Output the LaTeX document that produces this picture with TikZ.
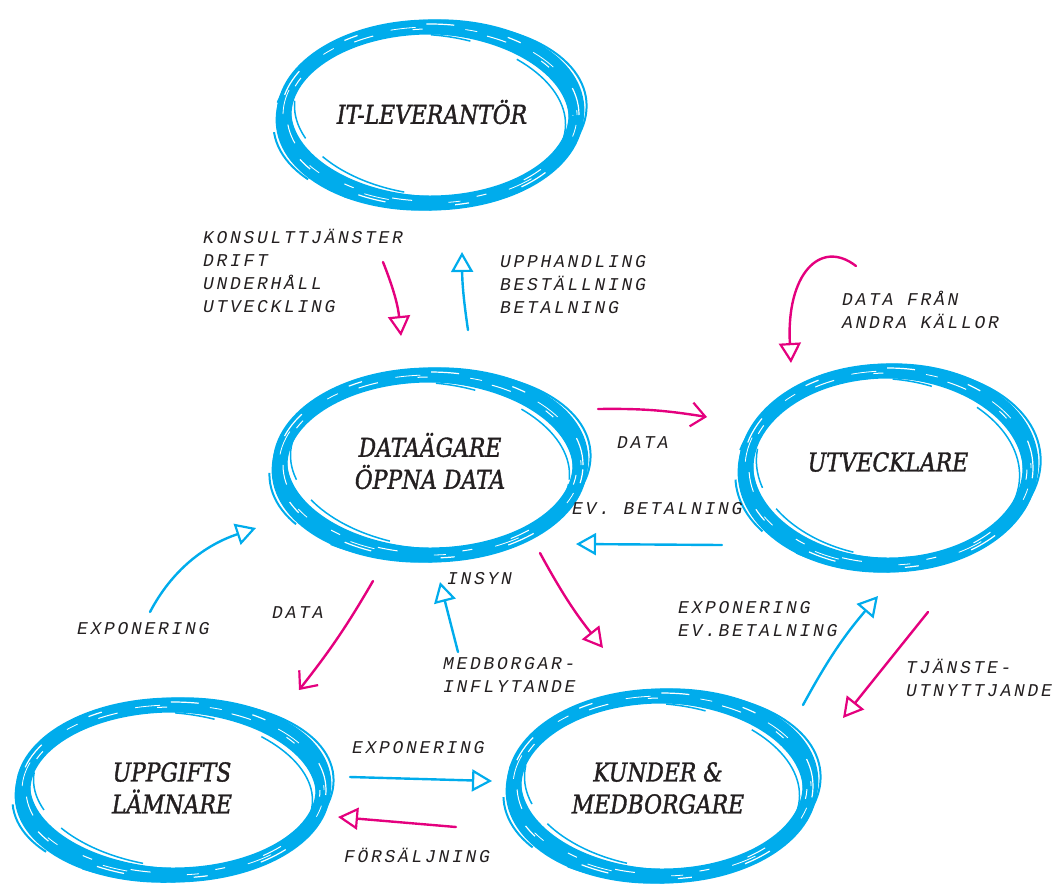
\documentclass[tikz,border=0pt]{standalone}
\usepackage{fontspec}
\setmainfont{DejaVu Serif}
\newfontfamily\labfont[FakeStretch=0.84, FakeBold=1.4]{DejaVu Serif}
\newfontfamily\handfont[LetterSpace=15]{Liberation Mono}
\usetikzlibrary{arrows.meta,shapes.geometric}
\definecolor{brushblue}{RGB}{0,172,236}
\definecolor{brushpink}{RGB}{228,0,126}
\definecolor{ink}{RGB}{35,31,32}

\tikzset{
  party/.style={ellipse, inner sep=0pt, align=center, text=ink,
    font=\labfont\itshape\fontsize{26}{32}\selectfont},
  hand/.style={inner sep=0pt, align=left, text=ink,
    font=\handfont\itshape\fontsize{18}{23}\selectfont},
  bluearrow/.style={draw=brushblue, line width=2.4pt, line cap=round,
    -{Triangle[open, length=20pt, width=22pt, line width=2.2pt]}},
  pinkarrow/.style={draw=brushpink, line width=2.4pt, line cap=round,
    -{Triangle[open, length=20pt, width=22pt, line width=2.2pt]}},
  pinkbarb/.style={draw=brushpink, line width=2.4pt, line cap=round,
    -{Straight Barb[length=14pt, width=24pt, line width=2.2pt]}},
}

% brush-stroke ring around a coordinate: #1 centre, #2 x radius, #3 y radius (pt)
\newcommand\brushring[3]{%
  \begin{scope}[shift={(#1)}]
    \draw[brushblue, line width=15pt] (0,0) ellipse [x radius=#2pt, y radius=#3pt];
    \draw[brushblue, line width=7pt, rotate=3] (0,0) ellipse [x radius=#2pt+5pt, y radius=#3pt+4pt];
    \draw[brushblue, line width=6pt, rotate=-3] (0,0) ellipse [x radius=#2pt-4pt, y radius=#3pt-4pt];
    \draw[brushblue, line width=2pt, rotate=5, dash pattern=on 120pt off 30pt on 60pt off 40pt]
      (0,0) ellipse [x radius=#2pt+11pt, y radius=#3pt+3pt];
    \draw[brushblue, line width=1.5pt, rotate=-6, dash pattern=on 90pt off 50pt on 40pt off 25pt]
      (0,0) ellipse [x radius=#2pt-10pt, y radius=#3pt-8pt];
    \draw[white, line width=1.2pt, dash pattern=on 28pt off 70pt on 14pt off 55pt]
      (0,0) ellipse [x radius=#2pt+3pt, y radius=#3pt+3pt];
    \draw[white, line width=1pt, dash pattern=on 20pt off 65pt on 10pt off 40pt, dash phase=30pt]
      (0,0) ellipse [x radius=#2pt-3pt, y radius=#3pt-2pt];
    \draw[white, line width=0.8pt, dash pattern=on 12pt off 50pt on 25pt off 60pt, dash phase=7pt]
      (0,0) ellipse [x radius=#2pt+1pt, y radius=#3pt];
  \end{scope}%
}

\begin{document}
\begin{tikzpicture}[x=1pt, y=-1pt]
  \useasboundingbox (0,0) rectangle (1057,887);

  % ring centres
  \coordinate (itc) at (430,115);
  \coordinate (dac) at (430,465);
  \coordinate (utc) at (888,468);
  \coordinate (upc) at (173,790);
  \coordinate (kuc) at (662,786);

  \brushring{itc}{146}{88}
  \brushring{dac}{150}{90}
  \brushring{utc}{142}{97}
  \brushring{upc}{150}{85}
  \brushring{kuc}{148}{90}

  % party nodes
  \node[party] (it) at (432,112) {IT-LEVERANTÖR};
  \node[party] (da) at (430,461) {DATAÄGARE\\ÖPPNA DATA};
  \node[party] (ut) at (888,462) {UTVECKLARE};
  \node[party] (up) at (172,788) {UPPGIFTS\\LÄMNARE};
  \node[party] (ku) at (658,788) {KUNDER \&\\MEDBORGARE};

  % connector end points
  \coordinate (a1s) at (383,262); \coordinate (a1e) at (401,336);
  \coordinate (a2s) at (468,330); \coordinate (a2e) at (462,252);
  \coordinate (a3s) at (856,266); \coordinate (a3e) at (791,363);
  \coordinate (a4s) at (598,409); \coordinate (a4e) at (707,417);
  \coordinate (a5s) at (722,545); \coordinate (a5e) at (576,544);
  \coordinate (a6s) at (150,612); \coordinate (a6e) at (256,528);
  \coordinate (a7s) at (373,581); \coordinate (a7e) at (299,690);
  \coordinate (a8s) at (458,652); \coordinate (a8e) at (440,582);
  \coordinate (a9s) at (540,553); \coordinate (a9e) at (603,648);
  \coordinate (a10s) at (803,705); \coordinate (a10e) at (878,596);
  \coordinate (a11s) at (928,612); \coordinate (a11e) at (843,718);
  \coordinate (a12s) at (350,777); \coordinate (a12e) at (492,781);
  \coordinate (a13s) at (456,827); \coordinate (a13e) at (338,817);

  % connectors
  \draw[pinkarrow] (a1s) to[bend left=8] (a1e);
  \draw[bluearrow] (a2s) to[bend left=4] (a2e);
  \draw[pinkarrow] (a3s) .. controls (820,238) and (786,275) .. (a3e);
  \draw[pinkbarb] (a4s) to[bend left=5] (a4e);
  \draw[bluearrow] (a5s) -- (a5e);
  \draw[bluearrow] (a6s) .. controls (172,570) and (205,545) .. (a6e);
  \draw[pinkbarb] (a7s) to[bend left=4] (a7e);
  \draw[bluearrow] (a8s) -- (a8e);
  \draw[pinkarrow] (a9s) to[bend right=5] (a9e);
  \draw[bluearrow] (a10s) to[bend left=6] (a10e);
  \draw[pinkarrow] (a11s) -- (a11e);
  \draw[bluearrow] (a12s) -- (a12e);
  \draw[pinkarrow] (a13s) -- (a13e);

  % labels
  \node[hand, anchor=north west] (l1) at (203,229) {KONSULTTJÄNSTER\\DRIFT\\UNDERHÅLL\\UTVECKLING};
  \node[hand, anchor=north west] (l2) at (500,255) {UPPHANDLING\\BESTÄLLNING\\BETALNING};
  \node[hand, anchor=north west] (l3) at (842,291) {DATA FRÅN\\ANDRA KÄLLOR};
  \node[hand, anchor=west] (l4) at (617,443) {DATA};
  \node[hand, anchor=west] (l5) at (572,509) {EV. BETALNING};
  \node[hand, anchor=west] (l6) at (77,629) {EXPONERING};
  \node[hand, anchor=west] (l7) at (272,613) {DATA};
  \node[hand, anchor=west] (l8) at (447,579) {INSYN};
  \node[hand, anchor=north west] (l9) at (443,657) {MEDBORGAR-\\INFLYTANDE};
  \node[hand, anchor=north west] (l10) at (678,601) {EXPONERING\\EV.BETALNING};
  \node[hand, anchor=north west] (l11) at (906,659) {TJÄNSTE-\\UTNYTTJANDE};
  \node[hand, anchor=west] (l12) at (352,748) {EXPONERING};
  \node[hand, anchor=west] (l13) at (344,855) {FÖRSÄLJNING};
\end{tikzpicture}
\end{document}
